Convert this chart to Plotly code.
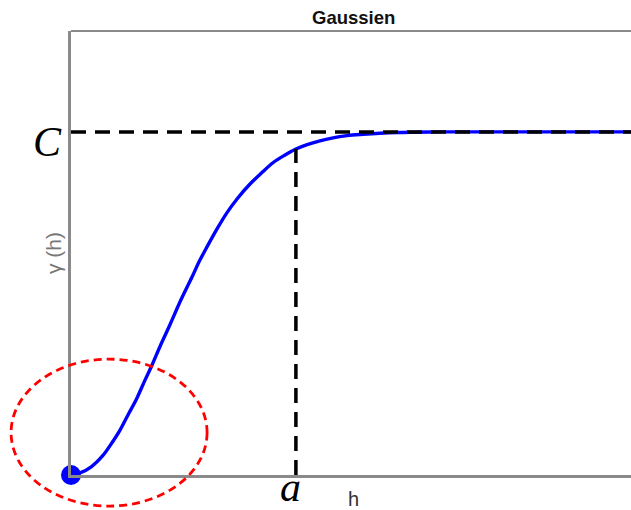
import plotly.graph_objects as go

# Gaussian variogram: lag h vs semivariance gamma(h); sill C, practical range a
h_vals = [0.0, 0.04, 0.09, 0.142, 0.18, 0.218, 0.255, 0.293, 0.33, 0.36,
          0.40, 0.44, 0.49, 0.538, 0.57, 0.604, 0.65, 0.693, 0.74, 0.796,
          0.85, 0.898, 0.95, 1.0, 1.05, 1.107, 1.16, 1.227, 1.30, 1.373,
          1.45, 1.52, 1.62, 1.73, 2.0, 2.49]
gamma_vals = [0.0, 0.006, 0.024, 0.057, 0.092, 0.131, 0.177, 0.224, 0.278, 0.320,
              0.381, 0.438, 0.512, 0.577, 0.622, 0.664, 0.718, 0.764, 0.806, 0.848,
              0.882, 0.910, 0.932, 0.95, 0.963, 0.974, 0.982, 0.989, 0.993, 0.996,
              0.998, 0.999, 1.0, 1.0, 1.0, 1.0]
sill_C = 1.0
range_a = 1.0
gamma_at_a = 0.95
x_max = 2.49
y_max = 1.294

fig = go.Figure()

# variogram curve
fig.add_trace(go.Scatter(x=h_vals, y=gamma_vals, mode="lines",
                         line=dict(color="#0000ff", width=3.4, shape="spline", smoothing=1.0),
                         hoverinfo="skip", showlegend=False))

# sill line
fig.add_trace(go.Scatter(x=[0, x_max], y=[sill_C, sill_C], mode="lines",
                         line=dict(color="black", width=3.5, dash="15px,9px"),
                         showlegend=False, hoverinfo="skip"))

# range line
fig.add_trace(go.Scatter(x=[range_a, range_a], y=[0, gamma_at_a], mode="lines",
                         line=dict(color="black", width=3.5, dash="15px,9px"),
                         showlegend=False, hoverinfo="skip"))

# nugget point at the origin
fig.add_trace(go.Scatter(x=[0], y=[0], mode="markers",
                         marker=dict(color="#0000ff", size=20),
                         cliponaxis=False, showlegend=False, hoverinfo="skip"))

axis_color = "#8a8a8a"
serif = "Liberation Serif, DejaVu Serif, serif"
sans = "Liberation Sans, Arial, sans-serif"
fig.update_layout(
    width=631, height=510,
    margin=dict(l=71, r=0, t=31, b=35),
    paper_bgcolor="white", plot_bgcolor="white",
    showlegend=False,
    xaxis=dict(range=[0, x_max], showgrid=False, zeroline=False, showticklabels=False,
               ticks="", showline=True, linecolor=axis_color, linewidth=2.5, fixedrange=True),
    yaxis=dict(range=[0, y_max], showgrid=False, zeroline=False, showticklabels=False,
               ticks="", showline=True, linecolor=axis_color, linewidth=2.5, fixedrange=True),
    shapes=[
        # top frame edge
        dict(type="line", xref="paper", yref="paper", x0=0, x1=1.02, y0=1, y1=1,
             line=dict(color=axis_color, width=2)),
        # highlight around the origin
        dict(type="circle", xref="paper", yref="paper",
             x0=-0.107, x1=0.243, y0=-0.070, y1=0.261,
             line=dict(color="#ff0000", width=2.8, dash="8px,5px")),
    ],
    annotations=[
        dict(text="<b>Gaussien</b>", xref="paper", yref="paper", x=0.505, y=1,
             yanchor="middle", yshift=14, showarrow=False,
             font=dict(family=sans, size=18.5, color="#111")),
        dict(text="C", xref="paper", yref="y", x=0, y=sill_C, xanchor="right",
             yanchor="middle", xshift=-7, yshift=-10, showarrow=False,
             font=dict(family=serif, size=42, color="black", style="italic")),
        dict(text="a", xref="x", yref="paper", x=range_a, y=0, yanchor="middle",
             xshift=-5, yshift=-12, showarrow=False,
             font=dict(family=serif, size=42, color="black", style="italic")),
        dict(text="h", xref="paper", yref="paper", x=0.505, y=0, yanchor="middle",
             yshift=-24, showarrow=False,
             font=dict(family=sans, size=20, color="#333")),
        dict(text="\u03b3 (h)", xref="paper", yref="paper", x=0, y=0.5, textangle=-90,
             xanchor="center", yanchor="middle", xshift=-18, showarrow=False,
             font=dict(family=sans, size=21, color="#777")),
    ],
)

fig.write_html("out.html")
